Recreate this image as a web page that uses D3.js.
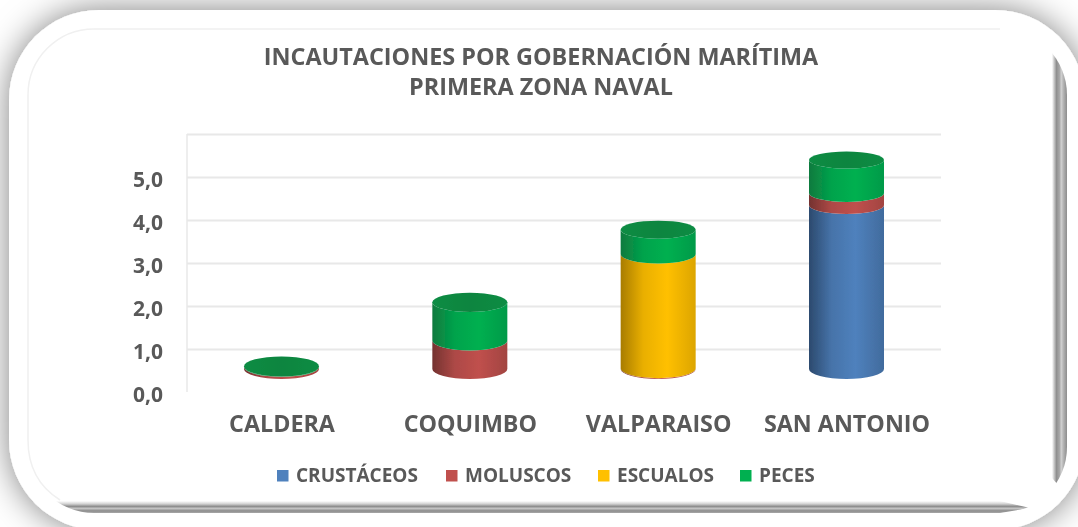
<!DOCTYPE html>
<html><head><meta charset="utf-8">
<script src="https://cdn.jsdelivr.net/npm/d3@7/dist/d3.min.js"></script>
<style>html,body{margin:0;padding:0;background:#fff;overflow:hidden}svg{display:block}text{font-family:"Open Sans",sans-serif;font-weight:700;fill:#595959;filter:blur(0.35px)}</style>
</head><body><svg id="c" width="1078" height="527"></svg>
<script>
const categories = ["CALDERA","COQUIMBO","VALPARAISO","SAN ANTONIO"];
const seriesNames = ["CRUSTÁCEOS","MOLUSCOS","ESCUALOS","PECES"];
const crustaceos = [0, 0, 0, 3.81];
const moluscos   = [0.05, 0.66, 0.02, 0.28];
const escualos   = [0, 0, 2.65, 0];
const peces      = [0.01, 0.89, 0.57, 0.77];
const tickValues = [0,1,2,3,4,5];
const title = ["INCAUTACIONES POR GOBERNACIÓN MARÍTIMA","PRIMERA ZONA NAVAL"];
const colors = ["#4f81bd","#c0504d","#ffc000","#00b050"];
const darks  = ["#2c4a6e","#743230","#a87c00","#0b7a3e"];

const svg = d3.select("#c");
const defs = svg.append("defs");
const f = defs.append("filter").attr("id","sh").attr("x","-10%").attr("y","-15%").attr("width","120%").attr("height","130%");
f.append("feDropShadow").attr("dx",0).attr("dy",0).attr("stdDeviation",17).attr("flood-color","#000").attr("flood-opacity",0.5);
const blur = defs.append("filter").attr("id","bl"); blur.append("feGaussianBlur").attr("stdDeviation",0.5);
const blur2 = defs.append("filter").attr("id","bl2"); blur2.append("feGaussianBlur").attr("stdDeviation",0.7);

colors.forEach((c,i)=>{
  const g = defs.append("linearGradient").attr("id","g"+i);
  [[0,darks[i]],[0.3,d3.interpolateRgb(darks[i],c)(0.75)],[0.62,c],[1,d3.interpolateRgb(darks[i],c)(0.6)]]
    .forEach(s=>g.append("stop").attr("offset",s[0]).attr("stop-color",s[1]));
});
const cap = defs.append("linearGradient").attr("id","cap");
[[0,"#0b8c44"],[0.5,"#08853f"],[1,"#0b8c44"]].forEach(s=>cap.append("stop").attr("offset",s[0]).attr("stop-color",s[1]));

const barR = defs.append("linearGradient").attr("id","barR");
[[0,"#ffffff"],[0.14,"#c8c8c8"],[0.3,"#8f8f8f"],[0.5,"#a8a8a8"],[0.62,"#d0d0d0"],[0.78,"#b0b0b0"],[1,"#8c8c8c"]]
  .forEach(s=>barR.append("stop").attr("offset",s[0]).attr("stop-color",s[1]));
const barB = defs.append("linearGradient").attr("id","barB").attr("x1",0).attr("x2",0).attr("y1",0).attr("y2",1);
[[0,"#ffffff"],[0.25,"#d0d0d0"],[0.45,"#8c8c8c"],[0.62,"#c4c4c4"],[0.82,"#8c8c8c"],[1,"#a8a8a8"]]
  .forEach(s=>barB.append("stop").attr("offset",s[0]).attr("stop-color",s[1]));
defs.append("clipPath").attr("id","pan").append("rect").attr("x",28).attr("y",29).attr("width",1039).attr("height",484).attr("rx",66);

// frame
svg.append("rect").attr("x",9).attr("y",10).attr("width",1076).attr("height",520).attr("rx",90).attr("fill","#fff").attr("filter","url(#sh)");
svg.append("path").attr("d","M60,500 Q28,480 28,440 L28,95 A66,66 0 0 1 94,29 L1000,29").attr("fill","none").attr("stroke","#f0f0f0").attr("stroke-width",1.5);
const fr = svg.append("g").attr("clip-path","url(#pan)").append("g").attr("filter","url(#bl2)");
fr.append("path").attr("d","M1052,50L1067,50L1067,495L1052,478Z").attr("fill","url(#barR)");
fr.append("path").attr("d","M50,501L1000,501L1030,508L1000,513L50,513Z").attr("fill","url(#barB)");

// scales
const y = d3.scaleLinear().domain([0,6]).range([392,134]);
const x = d3.scalePoint().domain(categories).range([281.5,846.5]);
const ryS = d3.scaleLinear().domain([0,5]).range([10,8.5]);
const rx = 37.5, depth = 23;

// grid + axis
const grid = svg.append("g").attr("transform","translate(187,0)")
  .call(d3.axisLeft(y).tickValues([1,2,3,4,5,6]).tickSize(-754).tickFormat(""));
grid.select(".domain").attr("stroke","#e8e8e8").attr("stroke-width",1.5).attr("d","M0,134V392");
grid.selectAll("line").attr("stroke","#e8e8e8").attr("stroke-width",2);

const yAxis = svg.append("g").attr("transform","translate(172,0)")
  .call(d3.axisLeft(y).tickValues(tickValues).tickSize(0).tickPadding(4).tickFormat(d=>d3.format(".1f")(d).replace(".",",")));
yAxis.select(".domain").remove();
yAxis.selectAll("text").style("font-size","21px").style("font-family",'"Open Sans",sans-serif').style("font-weight",700).attr("fill","#595959").attr("dy","0.36em").attr("x",-9).attr("y",2);

// cylinders
const series = [crustaceos,moluscos,escualos,peces];
categories.forEach((cat,ci)=>{
  const cx = x(cat);
  const by = v => y(v) - depth;
  let sum = 0;
  const g = svg.append("g").attr("filter","url(#bl)");
  series.forEach((vals,si)=>{
    const v = vals[ci];
    if(!v) return;
    const y0 = by(sum), y1 = by(sum+v), r0 = ryS(sum), r1 = ryS(sum+v);
    const p = `M${cx-rx},${y1}L${cx-rx},${y0}A${rx},${r0} 0 0 0 ${cx+rx},${y0}L${cx+rx},${y1}A${rx},${r1} 0 0 1 ${cx-rx},${y1}Z`;
    g.append("path").attr("d",p).attr("fill",`url(#g${si})`);
    sum += v;
  });
  g.append("ellipse").attr("cx",cx).attr("cy",by(sum)).attr("rx",rx).attr("ry",ryS(sum)).attr("fill","url(#cap)");
});

// category labels
const xAxis = svg.append("g").attr("transform","translate(0,424)")
  .call(d3.axisBottom(x).tickSize(0).tickPadding(0));
xAxis.select(".domain").remove();
xAxis.selectAll("text").attr("y",0).attr("dy","0.36em").style("font-size","23.3px").style("font-family",'"Open Sans",sans-serif').style("font-weight",700).attr("fill","#595959");

// title
svg.selectAll("text.t").data(title).join("text").attr("class","t")
  .attr("x",541).attr("y",(d,i)=>65+i*29.5).attr("text-anchor","middle").style("font-size","23.4px").text(d=>d);

// legend
const legX = [277,446,598,740];
const leg = svg.selectAll("g.l").data(seriesNames).join("g").attr("class","l").attr("transform",(d,i)=>`translate(${legX[i]},475)`);
leg.append("rect").attr("x",0).attr("y",-5).attr("width",11.5).attr("height",11.5).attr("fill",(d,i)=>colors[i]);
leg.append("text").attr("x",19).attr("dy","0.36em").style("font-size","19px").text(d=>d);
</script></body></html>
